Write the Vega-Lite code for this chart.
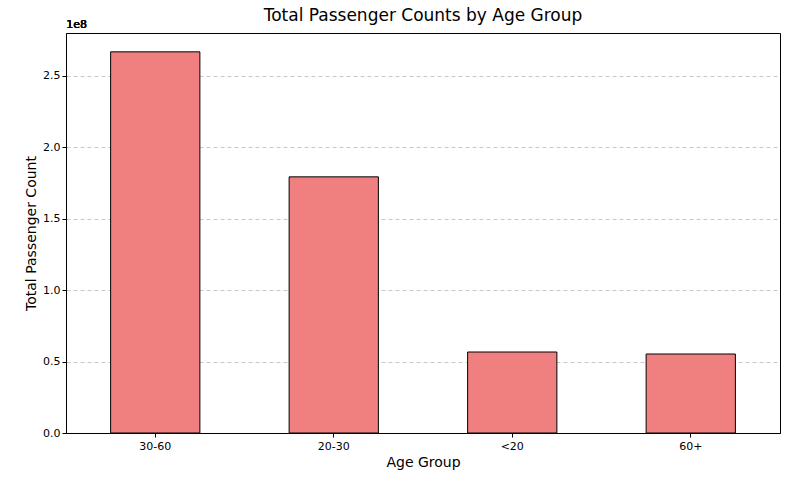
{
  "$schema": "https://vega.github.io/schema/vega-lite/v6.json",
  "width": 714,
  "height": 400,
  "autosize": "none",
  "padding": {"left": 66, "top": 33, "right": 10, "bottom": 57},
  "config": {
    "font": "DejaVu Sans",
    "view": {"stroke": "black", "strokeWidth": 1},
    "axis": {"labelColor": "black", "labelFontSize": 11, "tickColor": "black", "domainColor": "black", "titleFontWeight": "normal", "titleFontSize": 14, "titleColor": "black"}
  },
  "title": {"text": "Total Passenger Counts by Age Group", "fontSize": 17, "fontWeight": "normal", "offset": 8, "dy": 14, "color": "black"},
  "data": {
    "values": [
      {"age_group": "30-60", "count": 266800000},
      {"age_group": "20-30", "count": 179300000},
      {"age_group": "<20", "count": 56700000},
      {"age_group": "60+", "count": 55300000}
    ]
  },
  "layer": [
    {
      "mark": {"type": "bar", "color": "#f08080", "stroke": "black", "strokeWidth": 1},
      "encoding": {
        "x": {"field": "age_group", "type": "nominal", "sort": null, "title": "Age Group",
          "scale": {"paddingInner": 0.5, "paddingOuter": 0.25},
          "axis": {"labelAngle": 0, "tickSize": 4, "labelPadding": 3}},
        "y": {"field": "count", "type": "quantitative", "title": "Total Passenger Count",
          "scale": {"domain": [0, 280000000], "nice": false},
          "axis": {"values": [0, 50000000, 100000000, 150000000, 200000000, 250000000],
            "labelExpr": "format(datum.value / 1e8, '.1f')",
            "grid": true, "gridDash": [4, 3], "gridColor": "#c8c8c8", "tickSize": 4}}
      }
    },
    {
      "mark": {"type": "text", "text": "1e8", "fontSize": 11, "fontWeight": "normal", "baseline": "bottom", "align": "left", "dx": -89, "dy": -3},
      "encoding": {
        "x": {"datum": "30-60", "type": "nominal"},
        "y": {"datum": 280000000, "type": "quantitative"}
      }
    }
  ]
}
